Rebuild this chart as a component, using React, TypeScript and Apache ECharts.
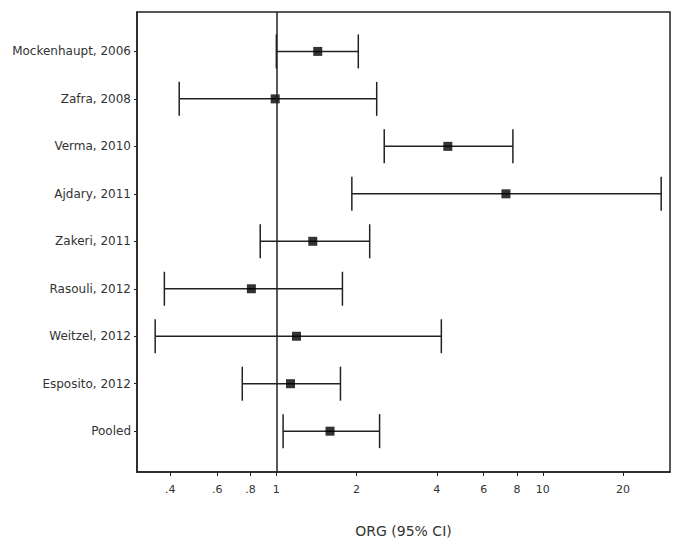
import React, { useEffect, useRef } from "react";
import * as echarts from "echarts";

const studies = [
  "Mockenhaupt, 2006",
  "Zafra, 2008",
  "Verma, 2010",
  "Ajdary, 2011",
  "Zakeri, 2011",
  "Rasouli, 2012",
  "Weitzel, 2012",
  "Esposito, 2012",
  "Pooled",
];
const estimates = [1.43, 0.99, 4.4, 7.27, 1.37, 0.806, 1.19, 1.13, 1.59];
const lowerCI = [1.0, 0.432, 2.54, 1.92, 0.87, 0.38, 0.351, 0.745, 1.06];
const upperCI = [2.03, 2.38, 7.72, 27.8, 2.24, 1.77, 4.16, 1.74, 2.44];
const tickValues = [0.4, 0.6, 0.8, 1, 2, 4, 6, 8, 10, 20];
const tickLabels = [".4", ".6", ".8", "1", "2", "4", "6", "8", "10", "20"];
const axisMin = 0.3;
const axisMax = 30;

export default function App() {
  const ref = useRef<HTMLDivElement>(null);
  useEffect(() => {
    if (!ref.current) return;
    const chart = echarts.init(ref.current, null, { renderer: "svg" });
    const L = Math.log10;
    const ciData = studies.map((_, i) => [L(lowerCI[i]), L(upperCI[i]), i + 1]);
    const ptData = studies.map((_, i) => [L(estimates[i]), i + 1]);
    const rows = studies.map((_, i) => i + 1);
    const ink = "#222";
    const textColor = "#333";
    const font = "'DejaVu Sans', Arial, sans-serif";
    chart.setOption({
      animation: false,
      grid: {
        left: 137,
        right: 13,
        top: 12,
        bottom: 79,
        show: true,
        borderColor: ink,
        borderWidth: 1.5,
        backgroundColor: "transparent",
      },
      xAxis: {
        type: "value",
        min: L(axisMin),
        max: L(axisMax),
        name: "ORG (95% CI)",
        nameLocation: "middle",
        nameGap: 52,
        nameTextStyle: { color: textColor, fontSize: 14, fontFamily: font },
        axisLine: { show: true, onZero: false, lineStyle: { color: ink, width: 1.5 } },
        axisTick: {
          show: true,
          length: 4,
          customValues: tickValues.map(L),
          lineStyle: { color: ink, width: 1 },
        },
        axisLabel: {
          customValues: tickValues.map(L),
          margin: 12,
          color: textColor,
          fontSize: 11,
          fontFamily: font,
          formatter: (v: number) => {
            let best = 0;
            let bd = Infinity;
            tickValues.forEach((t, i) => {
              const d = Math.abs(L(t) - v);
              if (d < bd) {
                bd = d;
                best = i;
              }
            });
            return tickLabels[best];
          },
        },
        splitLine: { show: false },
      },
      yAxis: {
        type: "value",
        inverse: true,
        min: 0.17,
        max: 9.86,
        axisLine: { show: true, onZero: false, lineStyle: { color: ink, width: 1.5 } },
        axisTick: {
          show: true,
          length: 3,
          customValues: rows,
          lineStyle: { color: ink, width: 1 },
        },
        axisLabel: {
          customValues: rows,
          margin: 6,
          color: textColor,
          fontSize: 12,
          fontFamily: font,
          formatter: (v: number) => studies[Math.round(v) - 1] ?? "",
        },
        splitLine: { show: false },
      },
      series: [
        {
          type: "custom",
          data: ciData,
          silent: true,
          renderItem: (params: any, api: any) => {
            const lo = api.coord([api.value(0), api.value(2)]);
            const hi = api.coord([api.value(1), api.value(2)]);
            const h = 17;
            const style = { stroke: ink, lineWidth: 1.5 };
            return {
              type: "group",
              children: [
                { type: "line", shape: { x1: lo[0], y1: lo[1], x2: hi[0], y2: hi[1] }, style },
                { type: "line", shape: { x1: lo[0], y1: lo[1] - h, x2: lo[0], y2: lo[1] + h }, style },
                { type: "line", shape: { x1: hi[0], y1: hi[1] - h, x2: hi[0], y2: hi[1] + h }, style },
              ],
            };
          },
          z: 2,
        },
        {
          type: "scatter",
          data: ptData,
          symbol: "rect",
          symbolSize: 9,
          itemStyle: { color: "#000" },
          z: 3,
          markLine: {
            silent: true,
            symbol: "none",
            label: { show: false },
            lineStyle: { color: ink, width: 1.5, type: "solid" },
            data: [{ xAxis: 0 }],
          },
        },
      ],
    });
    return () => chart.dispose();
  }, []);
  return (
    <div
      ref={ref}
      style={{ position: "absolute", left: 0, top: 0, width: 683, height: 551, background: "#fff" }}
    />
  );
}
